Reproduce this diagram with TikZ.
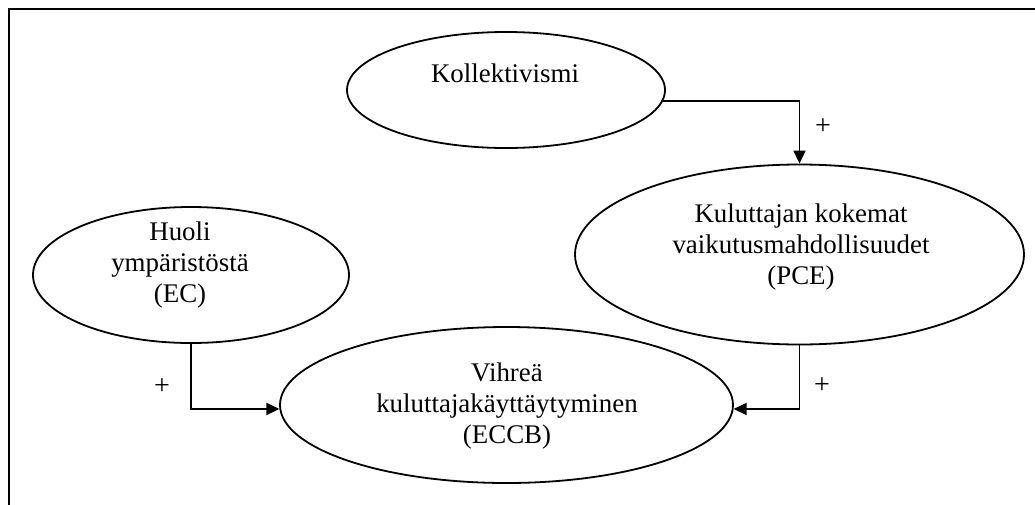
\documentclass[tikz,border=0pt]{standalone}
\usepackage{fontspec}
\setmainfont{Liberation Serif}
\usetikzlibrary{shapes.geometric,arrows.meta}
\begin{document}
\begin{tikzpicture}[x=1pt,y=-1pt,
  bubble/.style={draw,ellipse,line width=1.8pt,inner sep=0pt},
  caption/.style={align=center,font=\fontsize{26.9}{31}\selectfont,inner sep=0pt},
  sign/.style={font=\fontsize{28}{31}\selectfont,inner sep=0pt},
  link/.style={line width=1.8pt,-{Triangle[length=13pt,width=12pt]}}]
\useasboundingbox (0,0) rectangle (1035,504);
\clip (0,0) rectangle (1035,504);
% page frame (top and left edges)
\draw[line width=2.2pt] (9,520) -- (9,9) -- (1050,9);

% ellipses
\node[bubble,minimum width=318pt,minimum height=116pt] (koll) at (506,90) {};
\node[bubble,minimum width=316pt,minimum height=136pt] (ec) at (191,275) {};
\node[bubble,minimum width=449pt,minimum height=180pt] (pce) at (799.5,254.5) {};
\node[bubble,minimum width=453pt,minimum height=156pt] (eccb) at (506.5,405) {};

% labels
\node[caption,anchor=base] (kolltxt) at (505,82) {Kollektivismi};
\node[caption] (ectxt) at (180,265.5) {Huoli\\ympäristöstä\\(EC)};
\node[caption] (pcetxt) at (801,247.5) {Kuluttajan kokemat\\vaikutusmahdollisuudet\\(PCE)};
\node[caption] (eccbtxt) at (507,406) {Vihreä\\kuluttajakäyttäytyminen\\(ECCB)};

% connectors
\draw[link] (koll.-4) -| (pce.north);
\draw[link] (ec.south) |- (eccb.181.8);
\draw[link] (pce.south) |- (eccb.-1.8);

% signs
\node[sign] (p1) at (823,127) {+};
\node[sign] (p2) at (162,387) {+};
\node[sign] (p3) at (822,386) {+};
\end{tikzpicture}
\end{document}
